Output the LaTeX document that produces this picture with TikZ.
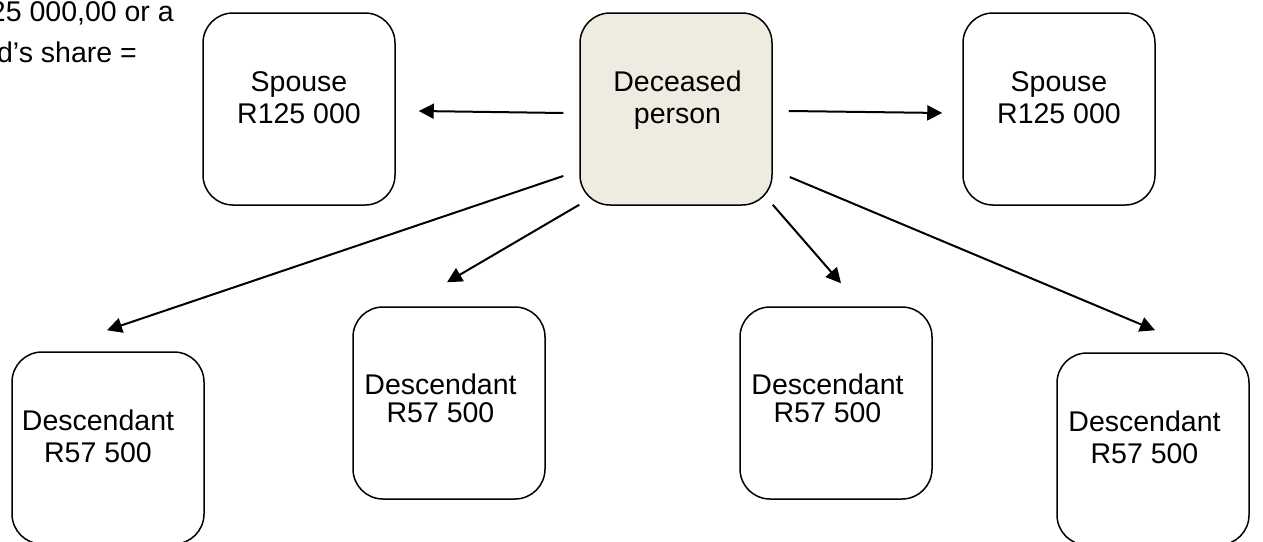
\documentclass[tikz,border=0pt]{standalone}
\usepackage{fontspec}
\setmainfont{Liberation Sans}
\usetikzlibrary{arrows.meta,calc}
\definecolor{deceasedfill}{HTML}{EEECE1}

\begin{document}
\begin{tikzpicture}[x=1pt,y=-1pt,
  box/.style={draw=black, line width=1.5pt, rounded corners=30pt,
    minimum width=192pt, minimum height=192pt, inner sep=0pt},
  txt/.style={font=\fontsize{28.5}{32}\selectfont, align=center, inner sep=0pt},
  txtb/.style={font=\fontsize{28.5}{28}\selectfont, align=center, inner sep=0pt},
  arr/.style={line width=2pt, -{Triangle[length=15pt,width=15pt]}}]

\useasboundingbox (0,0) rectangle (1263,541);
\fill[white] (0,0) rectangle (1263,541);
\clip (0,0) rectangle (1263,541);

% note running in from the left margin
\node[txt, anchor=base east] (note1) at (174,21) {25 000,00 or a};
\node[txt, anchor=base east] (note2) at (137,62) {d’s share =};

% boxes
\node[box] (sp1) at (299,109) {};
\node[box, fill=deceasedfill] (dec) at (676,109) {};
\node[box] (sp2) at (1059,109) {};
\node[box] (d1) at (108,448) {};
\node[box] (d2) at (449,403) {};
\node[box] (d3) at (836,403) {};
\node[box] (d4) at (1153,449) {};

% box texts
\node[txt] (sp1t) at ($(sp1)+(0,-11.5)$) {Spouse\\R125 000};
\node[txt] (dect) at ($(dec)+(1.5,-8.5)$) {Deceased\\person};
\node[txt] (sp2t) at ($(sp2)+(0,-11.5)$) {Spouse\\R125 000};
\node[txt] (d1t) at ($(d1)+(-10,-11.5)$) {Descendant\\R57 500};
\node[txtb] (d2t) at ($(d2)+(-8.5,-4.5)$) {Descendant\\R57 500};
\node[txtb] (d3t) at ($(d3)+(-8.5,-4.5)$) {Descendant\\R57 500};
\node[txt] (d4t) at ($(d4)+(-8.5,-11.5)$) {Descendant\\R57 500};

% connectors
\draw[arr] ($(dec.west)+(-16,4)$) -- ($(sp1.east)+(23,2)$);
\draw[arr] ($(dec.east)+(16,2)$) -- ($(sp2.west)+(-20,4)$);
\draw[arr] ($(dec.west)+(-16,67)$) -- ($(d1.north)+(-1,-21)$);
\draw[arr] ($(dec.south west)+(0,-1)$) -- ($(d2.north)+(-2,-24)$);
\draw[arr] ($(dec.south east)+(0,-1)$) -- ($(d3.north)+(5,-23)$);
\draw[arr] ($(dec.east)+(17,68)$) -- ($(d4.north)+(2,-22)$);
\end{tikzpicture}
\end{document}
